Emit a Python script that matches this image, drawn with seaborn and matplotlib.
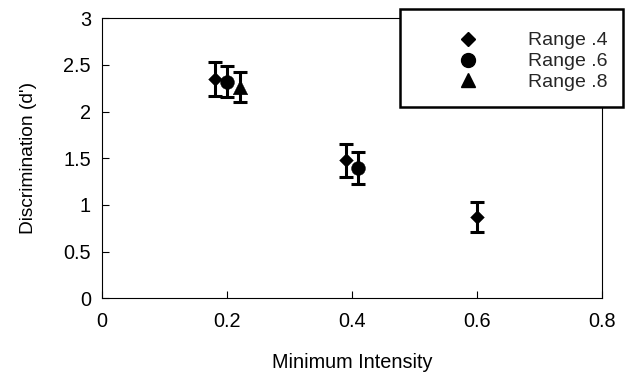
import matplotlib
matplotlib.use("Agg")
import matplotlib.pyplot as plt
from matplotlib.lines import Line2D
import seaborn as sns
import pandas as pd

# ---- data ----
range4_x = [0.18, 0.39, 0.60]
range4_y = [2.35, 1.48, 0.87]
range4_err = [0.18, 0.175, 0.16]

range6_x = [0.20, 0.41]
range6_y = [2.32, 1.40]
range6_err = [0.165, 0.17]

range8_x = [0.22]
range8_y = [2.26]
range8_err = [0.16]

series_labels = ["Range .4", "Range .6", "Range .8"]
x_ticks = [0, 0.2, 0.4, 0.6, 0.8]
x_ticklabels = ["0", "0.2", "0.4", "0.6", "0.8"]
y_ticks = [0, 0.5, 1, 1.5, 2, 2.5, 3]
y_ticklabels = ["0", "0.5", "1", "1.5", "2", "2.5", "3"]

sns.set_theme(style="white")
plt.rcParams["font.family"] = ["Liberation Sans", "DejaVu Sans"]

fig = plt.figure(figsize=(6.25, 3.76), dpi=100)
ax = fig.add_axes([102 / 625, 1 - 298.3 / 376, 500 / 625, 280 / 376])

series = [
    (range4_x, range4_y, range4_err, "D", 7.0),
    (range6_x, range6_y, range6_err, "o", 10.0),
    (range8_x, range8_y, range8_err, "^", 10.5),
]

handles = []
for (xs, ys, es, mk, ms), lab in zip(series, series_labels):
    df = pd.DataFrame({"x": xs, "y": ys})
    ax.errorbar(xs, ys, yerr=es, fmt="none", ecolor="black",
                elinewidth=2.2, capsize=4.9, capthick=2.2, zorder=2)
    sns.scatterplot(data=df, x="x", y="y", marker=mk, s=ms ** 2,
                    color="black", edgecolor="black", linewidth=0.3,
                    ax=ax, zorder=3, legend=False)
    handles.append(Line2D([], [], linestyle="none", marker=mk,
                          markersize=ms, color="black", label=lab))

ax.set_xlim(0, 0.8)
ax.set_ylim(0, 3)
ax.set_xticks(x_ticks)
ax.set_xticklabels(x_ticklabels)
ax.set_yticks(y_ticks)
ax.set_yticklabels(y_ticklabels)

ax.tick_params(axis="both", direction="in", length=5, width=0.8,
               color="black", labelsize=14.3, labelcolor="black",
               top=False, right=False, bottom=True, left=True)
ax.tick_params(axis="x", pad=10)
ax.tick_params(axis="y", pad=8)
for sp in ax.spines.values():
    sp.set_visible(True)
    sp.set_color("black")
    sp.set_linewidth(0.8)

ax.set_xlabel("Minimum Intensity", fontsize=14.3, labelpad=16, color="black")
ax.set_ylabel("Discrimination (d')", fontsize=13.8, labelpad=19, color="black")

leg = ax.legend(handles=handles, loc="upper right",
                bbox_to_anchor=(623 / 625, 1 - 9 / 376),
                bbox_transform=fig.transFigure, borderaxespad=0,
                fontsize=14, frameon=True, fancybox=False, shadow=False,
                borderpad=0.8, handlelength=5.3, handletextpad=0.45,
                labelspacing=0.17, numpoints=1,
                title=" ", title_fontsize=3)
frame = leg.get_frame()
frame.set_edgecolor("black")
frame.set_linewidth(1.8)
frame.set_facecolor("white")
frame.set_alpha(1)

fig.savefig("out.png", dpi=100, facecolor="white")
